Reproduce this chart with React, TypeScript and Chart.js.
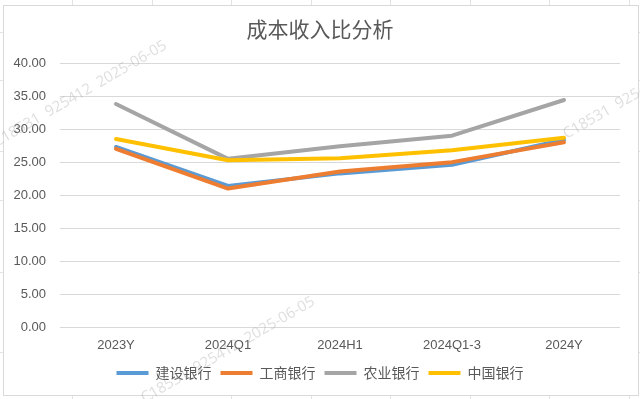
import React, { useEffect, useRef } from "react";
import { Chart, registerables } from "chart.js";

Chart.register(...registerables);

const categories = ["2023Y", "2024Q1", "2024H1", "2024Q1-3", "2024Y"];
const ccbValues = [27.3, 21.4, 23.3, 24.6, 28.4];
const icbcValues = [27.0, 21.0, 23.6, 25.0, 28.0];
const abcValues = [33.8, 25.5, 27.4, 29.0, 34.4];
const bocValues = [28.5, 25.3, 25.6, 26.8, 28.7];
const seriesNames = ["建设银行", "工商银行", "农业银行", "中国银行"];
const titleText = "成本收入比分析";
const watermarkText = "C18531  925412  2025-06-05";

const colors = ["#5B9BD5", "#ED7D31", "#A5A5A5", "#FFC000"];

const frame = {
  id: "frame",
  beforeDraw(chart: any) {
    const ctx = chart.ctx;
    ctx.save();
    ctx.fillStyle = "#ffffff";
    ctx.fillRect(0, 0, chart.width, chart.height);
    ctx.strokeStyle = "#e3e3e3";
    ctx.lineWidth = 1;
    const cols = [72.5, 152.5, 231.5, 311.5, 390.5, 470.5, 549.5, 629.5];
    ctx.beginPath();
    cols.forEach((x) => {
      ctx.moveTo(x, 0);
      ctx.lineTo(x, chart.height);
    });
    const rows = [32.5, 80.5, 151.5, 200.5, 272.5, 352.5];
    rows.forEach((y) => {
      ctx.moveTo(0, y);
      ctx.lineTo(chart.width, y);
    });
    ctx.stroke();
    ctx.fillStyle = "#ffffff";
    ctx.fillRect(3, 5, 635, 391);
    ctx.strokeStyle = "#d9d9d9";
    ctx.strokeRect(3.5, 5.5, 635, 390);
    // title
    ctx.fillStyle = "#595959";
    ctx.font = "21px 'Noto Sans CJK SC', sans-serif";
    ctx.textAlign = "center";
    ctx.textBaseline = "middle";
    ctx.fillText(titleText, 320, 29);
    ctx.restore();
  },
  afterDraw(chart: any) {
    const ctx = chart.ctx;
    ctx.save();
    ctx.font = "15px 'Open Sans', 'Noto Sans', sans-serif";
    ctx.fillStyle = "rgba(160,160,160,0.35)";
    ctx.textAlign = "center";
    ctx.textBaseline = "middle";
    const marks = [
      [80, 94],
      [650, 86],
      [228, 350],
    ];
    marks.forEach(([x, y]) => {
      ctx.save();
      ctx.translate(x, y);
      ctx.rotate(-Math.PI / 6);
      ctx.fillText(watermarkText, 0, 0);
      ctx.restore();
    });
    ctx.restore();
  },
};

export default function App() {
  const ref = useRef<HTMLCanvasElement | null>(null);
  useEffect(() => {
    if (!ref.current) return;
    const values = [ccbValues, icbcValues, abcValues, bocValues];
    const chart = new Chart(ref.current, {
      type: "line",
      data: {
        labels: categories,
        datasets: seriesNames.map((name, i) => ({
          label: name,
          data: values[i],
          order: seriesNames.length - i,
          borderColor: colors[i],
          backgroundColor: colors[i],
          borderWidth: 4,
          pointRadius: 0,
          tension: 0,
          borderCapStyle: "round",
          borderJoinStyle: "round",
        })),
      },
      options: {
        animation: false,
        responsive: false,
        layout: { padding: { left: 0, right: 0, top: 63, bottom: 9 } },
        plugins: {
          title: { display: false },
          legend: {
            position: "bottom",
            labels: {
              boxWidth: 32,
              boxHeight: 4,
              color: "#595959",
              font: { family: "'Noto Sans CJK SC', sans-serif", size: 14 },
              padding: 9,
              sort: (a: any, b: any) => a.datasetIndex - b.datasetIndex,
              generateLabels: (c: any) =>
                Chart.defaults.plugins.legend.labels
                  .generateLabels(c)
                  .map((l: any) => ({ ...l, lineWidth: 0, strokeStyle: "transparent" })),
            },
          },
          tooltip: { enabled: false },
        },
        scales: {
          x: {
            offset: true,
            afterFit: (scale: any) => {
              scale.height += 2;
            },
            grid: { display: false },
            border: { display: false },
            ticks: {
              color: "#595959",
              font: { family: "'Liberation Sans', sans-serif", size: 13 },
              padding: 2,
            },
          },
          y: {
            min: 0,
            max: 40,
            afterFit: (scale: any) => {
              scale.width = 60;
            },
            grid: { color: "#d9d9d9", lineWidth: 1, drawTicks: false },
            border: { display: false },
            ticks: {
              stepSize: 5,
              color: "#595959",
              padding: 14,
              font: { family: "'Liberation Sans', sans-serif", size: 13 },
              callback: (v: any) => Number(v).toFixed(2),
            },
          },
          yRight: {
            position: "right",
            min: 0,
            max: 40,
            afterFit: (scale: any) => {
              scale.width = 20;
            },
            grid: { display: false },
            border: { display: false },
            ticks: { display: false },
          },
        },
      },
      plugins: [frame],
    });
    return () => chart.destroy();
  }, []);
  return (
    <div style={{ position: "fixed", left: 0, top: 0, width: 640, height: 399 }}>
      <canvas ref={ref} width={640} height={399} />
    </div>
  );
}
